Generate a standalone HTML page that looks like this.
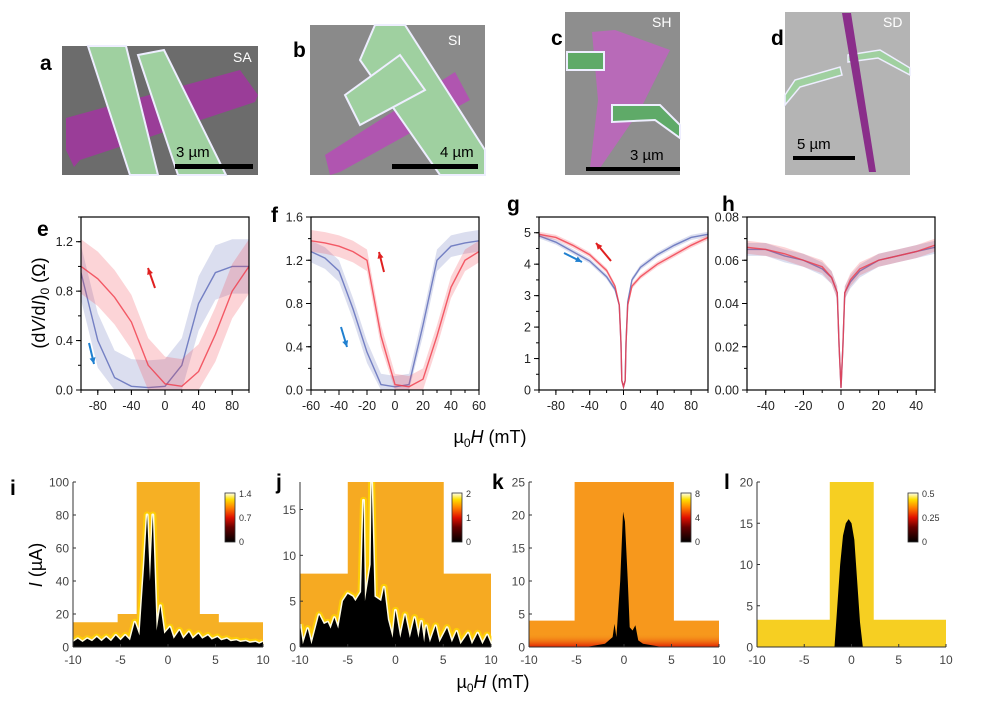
<!DOCTYPE html>
<html><head><meta charset="utf-8"><style>
html,body{margin:0;padding:0;background:#fff;}
svg{display:block;font-family:"Liberation Sans",Arial,sans-serif;}
.pl{font-weight:bold;font-size:21px;fill:#000}
.tk{font-size:12.5px;fill:#222}
.hk{font-size:12px;fill:#444}
</style></head><body>
<svg id="fig" width="982" height="708" viewBox="0 0 982 708">
<defs>
<linearGradient id="cbar" x1="0" y1="1" x2="0" y2="0">
<stop offset="0" stop-color="#000"/><stop offset="0.3" stop-color="#600"/><stop offset="0.5" stop-color="#e01000"/><stop offset="0.7" stop-color="#ff8000"/><stop offset="0.87" stop-color="#ffe000"/><stop offset="1" stop-color="#fffff0"/>
</linearGradient>
<linearGradient id="kbot" x1="0" y1="1" x2="0" y2="0"><stop offset="0" stop-color="#e02000"/><stop offset="1" stop-color="#f79a1c" stop-opacity="0"/></linearGradient>
</defs>

<!-- Panel letters -->
<text class="pl" x="40" y="70">a</text>
<text class="pl" x="293" y="57">b</text>
<text class="pl" x="551" y="45">c</text>
<text class="pl" x="771" y="45">d</text>
<text class="pl" x="37" y="236">e</text>
<text class="pl" x="271" y="222">f</text>
<text class="pl" x="507" y="211">g</text>
<text class="pl" x="722" y="211">h</text>
<text class="pl" x="10" y="495">i</text>
<text class="pl" x="276" y="489">j</text>
<text class="pl" x="492" y="489">k</text>
<text class="pl" x="724" y="489">l</text>

<!-- Image a -->
<g>
<rect x="62" y="46" width="196" height="129" fill="#6c6c6c"/>
<polygon points="66,118 240,70 258,95 255,102 80,160 74,167 66,150" fill="#9a3d98"/>
<polygon points="88,46 126,46 158,175 130,175" fill="#9fd0a0" stroke="#eef" stroke-width="2"/>
<polygon points="138,55 164,50 226,175 178,175" fill="#9fd0a0" stroke="#eef" stroke-width="2"/>
<text x="233" y="62" fill="#fff" font-size="14">SA</text>
<text x="176" y="157" fill="#000" font-size="15">3 µm</text>
<rect x="175" y="164" width="78" height="5" fill="#000"/>
</g>
<!-- Image b -->
<g>
<rect x="310" y="25" width="175" height="150" fill="#8a8a8a"/>
<polygon points="325,155 455,72 470,100 340,172 330,175" fill="#b055b0"/>
<polygon points="375,25 405,25 485,150 485,175 440,175 360,60" fill="#9fd0a0" stroke="#eef" stroke-width="2"/>
<polygon points="345,95 400,55 425,90 360,125" fill="#9fd0a0" stroke="#eef" stroke-width="2"/>
<text x="448" y="45" fill="#fff" font-size="14">SI</text>
<text x="440" y="157" fill="#000" font-size="15">4 µm</text>
<rect x="392" y="164" width="86" height="5" fill="#000"/>
</g>
<!-- Image c -->
<g>
<rect x="565" y="12" width="115" height="163" fill="#8e8e8e"/>
<polygon points="592,32 615,30 670,50 640,110 600,168 590,168 598,100" fill="#b86ab8"/>
<rect x="567" y="52" width="37" height="18" fill="#5faa68" stroke="#eef" stroke-width="2"/>
<polygon points="612,105 660,105 680,125 680,138 655,120 612,122" fill="#5faa68" stroke="#eef" stroke-width="2"/>
<text x="652" y="27" fill="#fff" font-size="14">SH</text>
<text x="630" y="160" fill="#000" font-size="15">3 µm</text>
<rect x="586" y="167" width="94" height="4" fill="#000"/>
</g>
<!-- Image d -->
<g>
<rect x="785" y="12" width="125" height="163" fill="#b4b4b4"/>
<polygon points="785,95 795,80 840,67 842,75 800,87 785,105" fill="#a0d0a0" stroke="#eef" stroke-width="1.5"/>
<polygon points="848,55 880,50 910,68 910,75 878,58 848,62" fill="#a0d0a0" stroke="#eef" stroke-width="1.5"/>
<polygon points="842,13 851,13 876,172 869,172" fill="#8a2e8a"/>
<text x="883" y="27" fill="#fff" font-size="14">SD</text>
<text x="797" y="149" fill="#000" font-size="15">5 µm</text>
<rect x="793" y="156" width="62" height="4" fill="#000"/>
</g>

<!-- Axis titles -->
<text transform="translate(45,303) rotate(-90)" text-anchor="middle" font-size="18" fill="#000">(d<tspan font-style="italic">V</tspan>/d<tspan font-style="italic">I</tspan>)<tspan font-size="12" dy="4">0</tspan><tspan dy="-4"> (Ω)</tspan></text>
<text x="490" y="443" text-anchor="middle" font-size="18" fill="#000">µ<tspan font-size="12" dy="4">0</tspan><tspan dy="-4" font-style="italic">H</tspan> (mT)</text>
<text transform="translate(42,565) rotate(-90)" text-anchor="middle" font-size="18" fill="#000"><tspan font-style="italic">I</tspan> (µA)</text>
<text x="493" y="688" text-anchor="middle" font-size="18" fill="#000">µ<tspan font-size="12" dy="4">0</tspan><tspan dy="-4" font-style="italic">H</tspan> (mT)</text>

<g id="plots"></g>
</svg>
<script>
// ---- Line plot data ----
const eX = [-100,-80,-60,-40,-20,0,20,40,60,80,100];
const eBlue = [0.95,0.4,0.1,0.03,0.02,0.03,0.2,0.7,0.95,1.0,1.0];
const eRed = [1.0,0.9,0.75,0.55,0.2,0.05,0.03,0.15,0.45,0.8,1.0];
const fX = [-60,-50,-40,-30,-20,-10,0,10,20,30,40,50,60];
const fBlue = [1.28,1.22,1.1,0.75,0.35,0.05,0.03,0.05,0.6,1.2,1.33,1.36,1.38];
const fRed = [1.38,1.36,1.33,1.28,1.2,0.5,0.05,0.03,0.1,0.5,0.95,1.2,1.28];
const gX = [-100,-80,-60,-40,-20,-10,-5,-3,-2,0,2,3,5,10,20,40,60,80,100];
const gBlue = [4.9,4.7,4.4,4.1,3.6,3.2,2.7,1.5,0.3,0.1,0.3,1.5,2.8,3.5,3.9,4.3,4.6,4.85,4.95];
const gRed = [4.95,4.85,4.6,4.3,3.8,3.3,2.7,1.5,0.3,0.1,0.3,1.5,2.7,3.3,3.6,4.0,4.3,4.6,4.85];
const hX = [-50,-40,-30,-20,-10,-5,-2,-1,0,1,2,5,10,20,30,40,50];
const hBlue = [0.065,0.065,0.062,0.060,0.056,0.052,0.045,0.02,0.001,0.02,0.045,0.05,0.055,0.06,0.062,0.064,0.066];
const hRed = [0.066,0.065,0.063,0.060,0.057,0.052,0.045,0.02,0.001,0.02,0.045,0.051,0.056,0.06,0.062,0.064,0.067];

// ---- Heatmap data ----
const iEdges = [-10,-5.3,-3.3,3.3,5.3,10];
const iTops = [15,20,100,20,15];
const iIcX = [-10,-9.5,-9,-8.5,-8,-7.5,-7,-6.5,-6,-5.5,-5,-4.5,-4,-3.5,-3,-2.5,-2.2,-1.9,-1.6,-1.2,-0.8,-0.4,0.2,0.6,1.2,1.6,2.2,2.6,3.2,3.6,4.2,4.6,5.2,5.6,6.2,6.6,7.2,7.6,8.2,8.6,9.2,9.6,10];
const iIcY = [3,5,3,5,3.5,6,3.5,6,3.5,7,4,7,4,15,7,50,80,40,80,10,25,8,12,5,10,5,9,5,8,5,7,4.5,6,4,5,3.5,4,3,3.5,2.5,3,2,3];
const jEdges = [-10,-5,5,10];
const jTops = [8,18,8];
const jIcX = [-10,-9.7,-9.2,-8.8,-8,-7.5,-7.1,-6.8,-6.4,-6,-5.5,-5,-4.5,-4.2,-3.6,-3.35,-3.2,-2.6,-2.5,-2.2,-1.5,-1.2,-0.8,-0.3,0,0.5,1,1.5,2,2.4,2.7,3,3.2,3.6,4.2,4.6,5.4,5.9,6.4,6.8,7.6,8,8.6,9.1,9.6,10];
const jIcY = [2.5,0.3,2,0.3,3.5,2.5,2.7,2,3.2,2,5,5.8,5.5,5,6,16,5,9,18,5.5,5,6.5,3,1,4,1,3.5,1,3.2,1,2.8,0.5,2.3,0.5,2.3,0.5,2.1,0.5,1.7,0.3,1.5,0.3,1.5,0.3,1.3,0.3];
const kEdges = [-10,-5.2,5.2,10];
const kTops = [4,25,4];
const kIcX = [-10,-4,-2,-1.2,-1,-0.8,-0.4,-0.1,0.1,0.4,0.6,0.9,1.2,1.5,2,4,10];
const kIcY = [0,0,0.5,1.5,3.5,1.5,10,20.5,19,10,3,2.5,3.3,1,0.5,0,0];
const lEdges = [-10,-2.3,2.3,10];
const lTops = [3.3,20,3.3];
const lIcX = [-10,-1.8,-1.5,-1.2,-0.9,-0.6,-0.3,0,0.3,0.6,0.9,1.2,10];
const lIcY = [0,0,5,10,13.5,15,15.5,15,13,8,3,0,0];
const iCbarTicks = ['1.4','0.7','0'];
const jCbarTicks = ['2','1','0'];
const kCbarTicks = ['8','4','0'];
const lCbarTicks = ['0.5','0.25','0'];

const NS = 'http://www.w3.org/2000/svg';
const root = document.getElementById('plots');
function el(tag, attrs, parent){const e=document.createElementNS(NS,tag);for(const k in attrs)e.setAttribute(k,attrs[k]);(parent||root).appendChild(e);return e;}
function scale(d0,d1,r0,r1){return v=>r0+(v-d0)/(d1-d0)*(r1-r0);}

function linePlot(id, box, xr, yr, xTicks, xMinor, yTicks, yMinor, yFmt, series){
  const g = el('g',{});
  
  
  const sx = scale(xr[0],xr[1],box[0],box[2]), sy = scale(yr[0],yr[1],box[3],box[1]);
  const cp = el('clipPath',{id:'clip-'+id},g);
  el('rect',{x:box[0],y:box[1],width:box[2]-box[0],height:box[3]-box[1]},cp);
  const sg = el('g',{'clip-path':'url(#clip-'+id+')'},g);
  series.forEach(s=>{
    let up = s.x.map((x,i)=>sx(x)+','+sy(s.y[i]+s.w)).join(' ');
    let dn = s.x.map((x,i)=>sx(x)+','+sy(Math.max(0,s.y[i]-s.w))).reverse().join(' ');
    const band = el('polygon',{points:up+' '+dn,fill:s.c,'fill-opacity':0.22},sg);
    
    
    const ln = el('polyline',{points:s.x.map((x,i)=>sx(x)+','+sy(s.y[i])).join(' '),fill:'none',stroke:s.c,'stroke-width':1.4,'stroke-opacity':0.8},sg);
    
    
  });
  const fr = el('rect',{x:box[0],y:box[1],width:box[2]-box[0],height:box[3]-box[1],fill:'none',stroke:'#000','stroke-width':1.2},g);
  
  
  xMinor.forEach(v=>el('line',{x1:sx(v),x2:sx(v),y1:box[3],y2:box[3]+3,stroke:'#000'},g));
  xTicks.forEach(v=>{el('line',{x1:sx(v),x2:sx(v),y1:box[3],y2:box[3]+5,stroke:'#000'},g);
    const t=el('text',{x:sx(v),y:box[3]+20,'text-anchor':'middle',class:'tk'},g);t.textContent=v;
    
    });
  yMinor.forEach(v=>el('line',{x1:box[0]-3,x2:box[0],y1:sy(v),y2:sy(v),stroke:'#000'},g));
  yTicks.forEach(v=>{el('line',{x1:box[0]-5,x2:box[0],y1:sy(v),y2:sy(v),stroke:'#000'},g);
    const t=el('text',{x:box[0]-8,y:sy(v)+4.5,'text-anchor':'end',class:'tk'},g);t.textContent=v.toFixed(yFmt);
    
    });
  return {sx,sy,g};
}
function range(a,b,s){const r=[];for(let v=a;v<=b+1e-9;v+=s)r.push(Math.round(v*1000)/1000);return r;}
function arrow(g,x1,y1,x2,y2,c,name){
  const a=el('line',{x1,y1,x2,y2,stroke:c,'stroke-width':2},g);
  
  
  const ang=Math.atan2(y2-y1,x2-x1),L=7;
  el('polygon',{points:`${x2},${y2} ${x2-L*Math.cos(ang-0.45)},${y2-L*Math.sin(ang-0.45)} ${x2-L*Math.cos(ang+0.45)},${y2-L*Math.sin(ang+0.45)}`,fill:c},g);
}
const BL='#5a68b8', RD='#f03a48';
let p;
p=linePlot('e',[81,217,249,390],[-100,100],[0,1.4],[-80,-40,0,40,80],range(-100,100,20),[0,0.4,0.8,1.2],range(0,1.4,0.2),1,
  [{n:'blue',x:eX,y:eBlue,w:0.22,c:BL},{n:'red',x:eX,y:eRed,w:0.22,c:RD}]);
arrow(p.g,155,288,148,268,'#e02020','e-arrow-red'); arrow(p.g,89,343,94,364,'#2080d0','e-arrow-blue');
p=linePlot('f',[311,217,479,390],[-60,60],[0,1.6],[-60,-40,-20,0,20,40,60],range(-60,60,10),[0,0.4,0.8,1.2,1.6],range(0,1.6,0.2),1,
  [{n:'blue',x:fX,y:fBlue,w:0.1,c:BL},{n:'red',x:fX,y:fRed,w:0.1,c:RD}]);
arrow(p.g,384,272,379,252,'#e02020','f-arrow-red'); arrow(p.g,341,327,347,347,'#2080d0','f-arrow-blue');
p=linePlot('g',[539,217,708,390],[-100,100],[0,5.5],[-80,-40,0,40,80],range(-100,100,20),[0,1,2,3,4,5],range(0,5.5,0.5),0,
  [{n:'blue',x:gX,y:gBlue,w:0.08,c:BL},{n:'red',x:gX,y:gRed,w:0.08,c:RD}]);
arrow(p.g,611,261,596,243,'#e02020','g-arrow-red'); arrow(p.g,564,253,582,262,'#2080d0','g-arrow-blue');
p=linePlot('h',[747,217,935,390],[-50,50],[0,0.08],[-40,-20,0,20,40],range(-50,50,10),[0,0.02,0.04,0.06,0.08],range(0,0.08,0.01),2,
  [{n:'blue',x:hX,y:hBlue,w:0.003,c:BL},{n:'red',x:hX,y:hRed,w:0.003,c:RD}]);

function heatmap(id, box, ymax, yTicks, edges, tops, icX, icY, bg, glow, cbx, cbTicks, redBottom){
  const g = el('g',{});
  
  
  const sx = scale(-10,10,box[0],box[2]), sy = scale(0,ymax,box[3],box[1]);
  const cp = el('clipPath',{id:'hclip-'+id},g);
  tops.forEach((t,i)=>el('rect',{x:sx(edges[i]),y:sy(t),width:sx(edges[i+1])-sx(edges[i])+0.5,height:box[3]-sy(t)},cp));
  const cg = el('g',{'clip-path':'url(#hclip-'+id+')'},g);
  const bgr = el('rect',{x:box[0],y:box[1],width:box[2]-box[0],height:box[3]-box[1],fill:bg},cg);
  
  
  if(redBottom){el('rect',{x:box[0],y:sy(ymax*0.08),width:box[2]-box[0],height:box[3]-sy(ymax*0.08),fill:'url(#kbot)'},cg);}
  const pts = icX.map((x,i)=>sx(x)+','+sy(icY[i])).join(' ');
  if(glow){
    el('polyline',{points:pts,fill:'none',stroke:'#ffd400','stroke-width':7,'stroke-opacity':0.8,'stroke-linejoin':'round'},cg);
    el('polyline',{points:pts,fill:'none',stroke:'#fffbe0','stroke-width':3,'stroke-linejoin':'round'},cg);
  }
  const blk = el('polygon',{points:pts+` ${sx(icX[icX.length-1])},${box[3]} ${sx(icX[0])},${box[3]}`,fill:'#000'},cg);
  
  
  el('line',{x1:box[0],x2:box[0],y1:box[1],y2:box[3],stroke:'#333'},g);
  el('line',{x1:box[0],x2:box[2],y1:box[3],y2:box[3],stroke:'#333'},g);
  [-10,-5,0,5,10].forEach(v=>{el('line',{x1:sx(v),x2:sx(v),y1:box[3],y2:box[3]-3,stroke:'#333'},g);
    const t=el('text',{x:sx(v),y:box[3]+17,'text-anchor':'middle',class:'hk'},g);t.textContent=v;
    
    });
  yTicks.forEach(v=>{el('line',{x1:box[0],x2:box[0]+3,y1:sy(v),y2:sy(v),stroke:'#333'},g);
    const t=el('text',{x:box[0]-4,y:sy(v)+4.5,'text-anchor':'end',class:'hk'},g);t.textContent=v;
    
    });
  const cb = el('rect',{x:cbx,y:493,width:10,height:49,fill:'url(#cbar)',stroke:'#333','stroke-width':0.8},g);
  
  
  cbTicks.forEach((s,i)=>{const t=el('text',{x:cbx+14,y:497+i*24,'font-size':9,fill:'#333'},g);t.textContent=s;
    
    });
}
heatmap('i',[73,482,263,647],100,[0,20,40,60,80,100],iEdges,iTops,iIcX,iIcY,'#f6b024',true,225,iCbarTicks,false);
heatmap('j',[300,482,491,647],18,[0,5,10,15],jEdges,jTops,jIcX,jIcY,'#f6aa22',true,452,jCbarTicks,false);
heatmap('k',[529,482,719,647],25,[0,5,10,15,20,25],kEdges,kTops,kIcX,kIcY,'#f7981c',false,681,kCbarTicks,true);
heatmap('l',[757,482,946,647],20,[0,5,10,15,20],lEdges,lTops,lIcX,lIcY,'#f6cf22',false,908,lCbarTicks,false);
</script>
</body></html>
